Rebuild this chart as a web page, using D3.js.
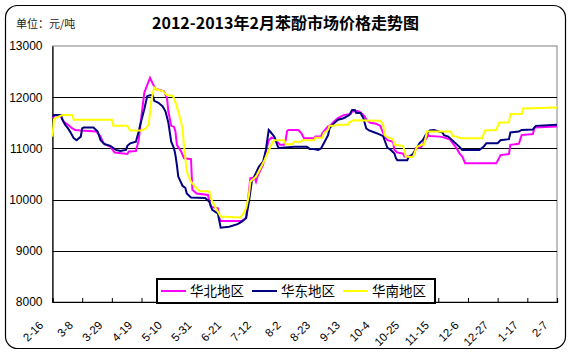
<!DOCTYPE html>
<html><head><meta charset="utf-8">
<script src="https://cdn.jsdelivr.net/npm/d3@7"></script>
<style>
html,body{margin:0;padding:0;background:#fff;}
svg{display:block;}
</style></head>
<body>
<svg id="chart" width="568" height="356"></svg>
<script>
// ---- data (day offsets from 2012-02-16, price in 元/吨) ----
const seriesNames = ["华北地区", "华东地区", "华南地区"];
const seriesColors = ["#FF00FF", "#000080", "#FFFF00"];
const xTickLabels = ["2-16","3-8","3-29","4-19","5-10","5-31","6-21","7-12","8-2","8-23","9-13","10-4","10-25","11-15","12-6","12-27","1-17","2-7"];
const yTickValues = [8000, 9000, 10000, 11000, 12000, 13000];

const northDays = [0,2,6,8,11,14,16,20,31,34,36,41,44,53,54,59,61,63,65,69,71,73,76,79,81,82,84,86,87,88,91,93,98,99,102,110,112,117,118,119,134,137,138,140,143,144,145,146,149,151,153,155,157,159,161,164,165,166,167,174,176,178,185,186,190,191,195,197,199,202,206,211,212,216,217,218,221,222,225,229,232,235,237,241,242,244,248,249,254,256,257,261,263,266,267,274,276,281,283,286,288,290,292,314,316,317,323,324,330,332,340,341,357];
const northValues = [11590,11650,11620,11520,11460,11390,11360,11350,11330,11230,11100,11030,10920,10890,10940,10950,11160,11650,12090,12380,12260,12160,12140,12110,11990,11720,11440,11420,11330,11070,10940,10810,10790,10190,10120,10090,9860,9830,9640,9580,9580,9640,9900,10420,10430,10350,10450,10510,10680,10940,11160,11210,11200,11130,11070,11070,11160,11340,11360,11360,11300,11200,11200,11230,11230,11300,11430,11460,11520,11590,11650,11670,11720,11730,11720,11700,11620,11560,11500,11480,11440,11230,11160,11130,10970,10920,10900,10840,10840,10890,11000,11030,11130,11260,11240,11230,11220,11180,11110,11000,10900,10840,10710,10710,10810,10870,10890,11070,11090,11260,11280,11410,11430];

const eastDays = [0,1,6,7,9,11,13,15,17,20,21,22,29,32,34,37,41,45,48,52,53,55,59,61,62,65,67,69,71,72,75,78,80,82,84,86,87,88,89,92,94,95,98,108,111,113,117,119,125,131,134,137,139,141,146,149,151,153,154,157,159,160,171,180,182,185,188,190,192,195,196,198,202,206,210,212,214,215,218,220,222,224,228,231,234,235,237,239,242,243,244,251,252,255,257,260,262,264,267,270,276,277,280,284,288,290,302,305,307,315,317,323,324,330,332,340,342,357];
const eastValues = [11620,11650,11650,11560,11460,11390,11300,11200,11160,11230,11390,11410,11410,11330,11160,11080,11050,10970,10950,10970,11050,11100,11130,11330,11450,11770,12020,12040,12040,11930,11890,11820,11720,11500,11130,11000,10870,10680,10450,10270,10230,10120,10040,10030,9960,9800,9730,9450,9470,9520,9570,9640,9960,10350,10640,10740,10970,11360,11330,11230,11070,11010,11030,11030,10990,10990,10970,11000,11100,11260,11390,11460,11560,11590,11650,11750,11750,11690,11690,11590,11390,11350,11310,11280,11240,11160,11010,10980,10900,10810,10770,10770,10830,10890,10980,11110,11160,11260,11350,11360,11310,11260,11230,11130,11030,10970,10970,11030,11100,11100,11160,11180,11310,11330,11360,11370,11440,11460];

const southDays = [0,1,2,7,14,15,42,43,53,55,63,66,68,70,72,74,78,81,85,86,88,90,92,93,94,95,98,101,104,111,112,115,119,133,135,137,139,140,144,146,150,152,156,157,164,165,170,171,176,177,185,186,191,192,195,196,199,202,209,210,213,232,234,235,237,241,242,248,249,250,255,256,257,258,261,263,265,282,283,286,289,304,306,314,316,323,324,332,333,357];
const southValues = [11230,11560,11590,11650,11650,11560,11560,11440,11440,11350,11350,11390,11460,11940,12190,12150,12120,12040,12030,11980,11820,11620,11390,11070,10810,10550,10350,10250,10170,10160,10030,9860,9670,9650,9730,9830,10090,10350,10450,10550,10770,10900,11130,11160,11160,11080,11080,11130,11130,11160,11160,11210,11210,11300,11360,11440,11440,11460,11460,11510,11550,11540,11460,11260,11220,11180,11070,11050,10970,10840,10830,10900,10970,11030,11070,11080,11330,11330,11240,11230,11200,11200,11350,11360,11500,11510,11670,11670,11780,11800];

const allDays = [northDays, eastDays, southDays];
const allValues = [northValues, eastValues, southValues];
const lastDay = 357;
const tickDays = xTickLabels.map((_, i) => i * 21);

// ---- drawing ----
const svg = d3.select("#chart");
const plot = {left: 52.5, right: 557, top: 46, bottom: 302};
const x = d3.scaleLinear().domain([0, lastDay]).range([plot.left, plot.right]);
const y = d3.scaleLinear().domain([8000, 13000]).range([plot.bottom, plot.top]);

svg.append("rect").attr("width", 568).attr("height", 356).attr("fill", "#fff");
// outer rounded frame
svg.append("rect").attr("x", 5.5).attr("y", 5.5).attr("width", 560).attr("height", 343)
  .attr("rx", 12).attr("ry", 12).attr("fill", "none").attr("stroke", "#000").attr("stroke-width", 1.2);

// title + unit
svg.append("text").attr("x", 285.5).attr("y", 29).attr("text-anchor", "middle")
  .style("font-family", "'Noto Sans CJK SC', sans-serif").style("font-weight", "bold").style("font-size", "16px")
  .text("2012-2013年2月苯酚市场价格走势图");
svg.append("text").attr("x", 16).attr("y", 28)
  .style("font-family", "'Noto Sans CJK SC', sans-serif").style("font-size", "11px").attr("fill", "#222")
  .text("单位：元/吨");

// plot area border (gray top/right)
svg.append("rect").attr("x", plot.left).attr("y", plot.top)
  .attr("width", plot.right - plot.left).attr("height", plot.bottom - plot.top)
  .attr("fill", "#fff").attr("stroke", "#808080").attr("stroke-width", 1);

// gridlines
svg.append("g").selectAll("line").data(yTickValues.filter(v => v > 8000 && v < 13000)).join("line")
  .attr("x1", plot.left).attr("x2", plot.right)
  .attr("y1", d => Math.round(y(d)) + 0.5).attr("y2", d => Math.round(y(d)) + 0.5)
  .attr("stroke", "#000").attr("stroke-width", 1);

// y axis
const yAxis = d3.axisLeft(y).tickValues(yTickValues).tickSize(0).tickPadding(10).tickFormat(d3.format("d"));
const gy = svg.append("g").attr("transform", `translate(${plot.left},0)`).call(yAxis);
gy.select(".domain").attr("stroke", "#000").attr("stroke-width", 1.2);
gy.selectAll("text").style("font-family", "'Liberation Sans', Arial, sans-serif").style("font-size", "12px").attr("fill", "#000");

// x axis
const xAxis = d3.axisBottom(x).tickValues(tickDays).tickSize(-4).tickFormat((d, i) => xTickLabels[i]);
const gx = svg.append("g").attr("transform", `translate(0,${plot.bottom})`).call(xAxis);
gx.select(".domain").attr("stroke", "#000").attr("stroke-width", 1.2);
gx.selectAll(".tick line").attr("stroke", "#000");
gx.selectAll("text")
  .style("font-family", "'Liberation Sans', Arial, sans-serif").style("font-size", "11.5px").attr("fill", "#000")
  .attr("text-anchor", "end").attr("dy", null).attr("y", null)
  .attr("transform", "translate(-9,24) rotate(-45)");

// lines
const line = d3.line().x(d => x(d[0])).y(d => y(d[1]));
const lines = svg.append("g");
allDays.forEach((days, si) => {
  const pts = days.map((d, i) => [d, allValues[si][i]]);
  lines.append("path").datum(pts).attr("d", line)
    .attr("fill", "none").attr("stroke", seriesColors[si]).attr("stroke-width", 2)
    .attr("stroke-linejoin", "miter");
});

// legend
const lg = svg.append("g");
lg.append("rect").attr("x", 157).attr("y", 279).attr("width", 278).attr("height", 24)
  .attr("fill", "#fff").attr("stroke", "#000").attr("stroke-width", 2);
const legX = [161, 252, 343];
seriesNames.forEach((n, i) => {
  lg.append("line").attr("x1", legX[i]).attr("x2", legX[i] + 25).attr("y1", 291).attr("y2", 291)
    .attr("stroke", seriesColors[i]).attr("stroke-width", 2);
  lg.append("text").attr("x", legX[i] + 29).attr("y", 296)
    .style("font-family", "'Noto Sans CJK SC', sans-serif").style("font-size", "13.5px").attr("fill", "#000")
    .text(n);
});
</script>
</body></html>
